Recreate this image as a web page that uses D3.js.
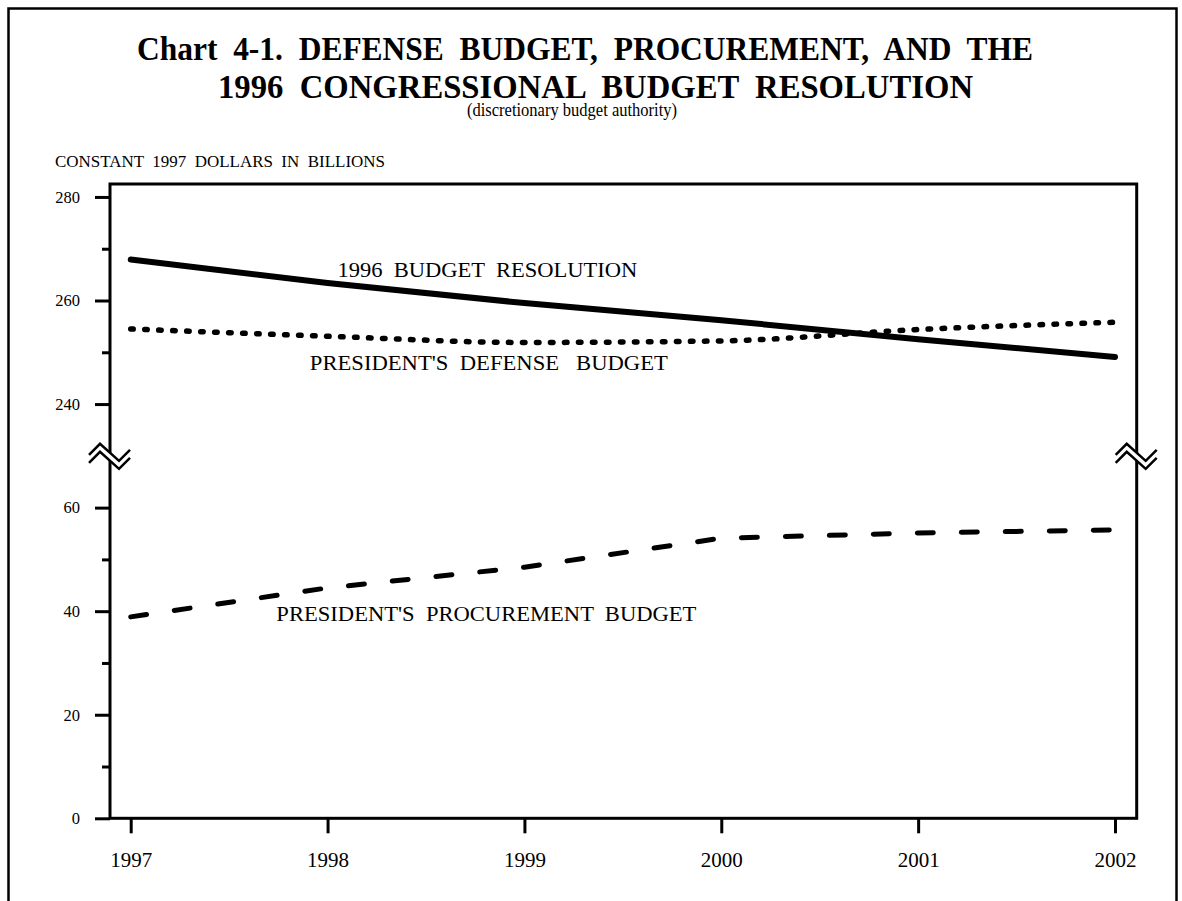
<!DOCTYPE html>
<html>
<head>
<meta charset="utf-8">
<script src="https://cdn.jsdelivr.net/npm/d3@7"></script>
<style>
  body { margin: 0; background: #fff; }
  svg { display: block; font-family: "Liberation Serif", "Times New Roman", serif; }
</style>
</head>
<body>
<script>
// data
var years = [1997, 1998, 1999, 2000, 2001, 2002];
var budgetResolution = [267.9, 263.4, 259.5, 256.2, 252.5, 249.1];
var defenseBudget = [254.5, 253.1, 251.9, 252.2, 254.4, 255.8];
var procurementBudget = [38.9, 44.5, 48.5, 54.1, 55.1, 55.7];
var yMajorTicks = [0, 20, 40, 60, 240, 260, 280];
var yMinorTicks = [10, 30, 50, 250, 270];
var seriesNames = ["1996  BUDGET  RESOLUTION", "PRESIDENT'S  DEFENSE   BUDGET", "PRESIDENT'S  PROCUREMENT  BUDGET"];

var W = 1182, H = 901;
var box = { left: 110, top: 184, right: 1136.7, bottom: 818.3 };

var svg = d3.select("body").append("svg")
  .attr("width", W)
  .attr("height", H);

// outer frame (bottom runs off the page)
svg.append("rect")
  .attr("x", 8.5).attr("y", 8.5)
  .attr("width", 1168).attr("height", 950)
  .attr("fill", "none").attr("stroke", "#000").attr("stroke-width", 2.5);

// text squeezed to the width it has in the original
function fitText(txt, x, y, size, len, bold) {
  svg.append("text")
    .attr("x", x).attr("y", y)
    .attr("font-size", size)
    .attr("font-weight", bold ? "bold" : "normal")
    .attr("textLength", len)
    .attr("lengthAdjust", "spacingAndGlyphs")
    .style("white-space", "pre")
    .text(txt);
}
fitText("Chart  4-1.  DEFENSE  BUDGET,  PROCUREMENT,  AND  THE", 137, 60, 34, 896, true);
fitText("1996  CONGRESSIONAL  BUDGET  RESOLUTION", 218, 98, 34, 755, true);
fitText("(discretionary budget authority)", 467, 116, 19, 210, false);
fitText("CONSTANT  1997  DOLLARS  IN  BILLIONS", 55, 167, 17, 330, false);

// scales: broken y axis, 70..230 collapsed onto the break
var k = (box.bottom - box.top) / 122.5;
var yBreak = box.bottom - 70 * k;
var x = d3.scaleLinear().domain([1997, 2002]).range([130.7, 1115]);
var y = d3.scaleLinear()
  .domain([0, 70, 230, 282.5])
  .range([box.bottom, yBreak, yBreak, box.top]);

// plot box
svg.append("rect")
  .attr("x", box.left).attr("y", box.top)
  .attr("width", box.right - box.left).attr("height", box.bottom - box.top)
  .attr("fill", "none").attr("stroke", "#000").attr("stroke-width", 3);

// series
var series = [
  { values: budgetResolution, width: 6, dash: null, curve: d3.curveLinear },
  { values: defenseBudget, width: 5.5, dash: "2.5,11.5", curve: d3.curveMonotoneX },
  { values: procurementBudget, width: 5, dash: "16,28", curve: d3.curveLinear }
];
series.forEach(function (s) {
  var line = d3.line()
    .x(function (d, i) { return x(years[i]); })
    .y(function (d) { return y(d); })
    .curve(s.curve);
  svg.append("path")
    .datum(s.values)
    .attr("d", line)
    .attr("fill", "none")
    .attr("stroke", "#000")
    .attr("stroke-width", s.width)
    .attr("stroke-linecap", "round")
    .attr("stroke-linejoin", "round")
    .attr("stroke-dasharray", s.dash);
});

// series labels, placed in data units
var labelPos = [[1998.05, 264.5, 300], [1997.91, 246.5, 358], [1997.74, 38.1, 420]];
seriesNames.forEach(function (name, i) {
  fitText(name, x(labelPos[i][0]), y(labelPos[i][1]), 21, labelPos[i][2], false);
});

// axes
var yAxis = svg.append("g")
  .attr("transform", "translate(" + box.left + ",0)")
  .call(d3.axisLeft(y).tickValues(yMajorTicks).tickSize(15).tickPadding(15).tickFormat(d3.format("d")));
var yMinor = svg.append("g")
  .attr("transform", "translate(" + box.left + ",0)")
  .call(d3.axisLeft(y).tickValues(yMinorTicks).tickSize(8).tickFormat(""));
var xAxis = svg.append("g")
  .attr("transform", "translate(0," + box.bottom + ")")
  .call(d3.axisBottom(x).tickValues(years).tickSize(15).tickPadding(19).tickFormat(d3.format("d")));

[yAxis, yMinor, xAxis].forEach(function (g) {
  g.select(".domain").remove();
  g.selectAll("line").attr("stroke-width", 3);
  g.selectAll("text").attr("font-family", "Liberation Serif, serif");
});
yAxis.selectAll("text").attr("font-size", 16.5);
xAxis.selectAll("text")
  .attr("font-size", 21)
  .attr("textLength", 42)
  .attr("lengthAdjust", "spacingAndGlyphs");

// axis break marks
var zigTop = [[-21, -3], [-10, -14], [9, 3], [20, -8]];
var zigBot = zigTop.map(function (p) { return [p[0], p[1] + 8]; });
[box.left, box.right].forEach(function (cx) {
  var g = svg.append("g").attr("transform", "translate(" + cx + "," + (yBreak + 2) + ")");
  g.append("path")
    .attr("d", d3.line()(zigTop.concat(zigBot.slice().reverse())) + "Z")
    .attr("fill", "#fff");
  [zigTop, zigBot].forEach(function (pts) {
    g.append("path")
      .attr("d", d3.line()(pts))
      .attr("fill", "none")
      .attr("stroke", "#000")
      .attr("stroke-width", 2.5);
  });
});
</script>
</body>
</html>
